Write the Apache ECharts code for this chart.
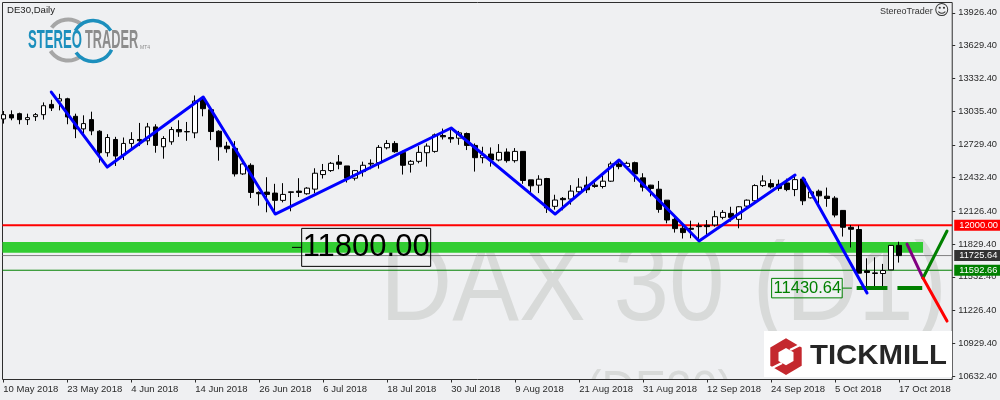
<!DOCTYPE html>
<html><head><meta charset="utf-8">
<style>html,body{margin:0;padding:0;background:#eff0f2}#c{width:1000px;height:400px}</style>
<script src="https://cdn.jsdelivr.net/npm/echarts@6/dist/echarts.min.js"></script>
</head><body><div id="c"></div>
<script>
const opens=[12964,13003,13012,12958,12985,13003,13096,13126,13147,12988,
12874,12958,12853,12658,12778,12637,12742,12778,12766,12892,
12712,12757,12868,12850,12838,13144,13048,12853,12718,12697,
12466,12544,12298,12301,12292,12226,12298,12310,12286,12328,
12460,12496,12574,12538,12427,12487,12556,12568,12703,12742,
12661,12553,12580,12658,12670,12814,12796,12790,12832,12724,
12613,12646,12592,12664,12586,12670,12412,12364,12424,12172,
12244,12238,12304,12364,12364,12352,12400,12556,12532,12568,
12430,12364,12327,12228,12054,11973,11973,11988,12000,12003,
12072,12108,12054,12174,12222,12360,12378,12372,12384,12324,
12420,12249,12309,12264,12246,12135,11982,11962,11587,11563,11563,11596,11818];
const closes=[13003,12973,12958,12976,13003,13084,13063,13147,12982,12874,
12922,12856,12658,12796,12628,12742,12778,12766,12892,12724,
12787,12868,12847,12847,13126,13057,12850,12712,12694,12466,
12556,12298,12286,12280,12226,12280,12304,12298,12337,12472,
12496,12562,12553,12427,12496,12544,12562,12706,12742,12667,
12544,12580,12661,12718,12820,12802,12784,12838,12724,12613,
12637,12592,12661,12586,12670,12406,12358,12418,12157,12229,
12232,12310,12346,12322,12352,12400,12556,12532,12562,12466,
12346,12334,12144,12048,11970,11934,11964,11994,11988,12078,
12117,12072,12168,12228,12360,12402,12348,12333,12324,12414,
12222,12303,12267,12243,12093,11982,11964,11566,11572,11569,11590,11818,11725.64];
const lows=[12922,12952,12916,12910,12946,12958,13036,13042,12916,12790,
12817,12817,12568,12622,12538,12592,12697,12718,12727,12658,
12604,12730,12802,12766,12790,12988,12772,12586,12658,12442,
12457,12247,12178,12118,12112,12208,12127,12256,12277,12292,
12424,12484,12508,12388,12406,12442,12508,12514,12688,12658,
12460,12478,12562,12532,12658,12778,12748,12730,12682,12487,
12562,12532,12580,12568,12568,12376,12298,12292,12112,12142,
12136,12187,12274,12292,12340,12334,12394,12508,12526,12394,
12307,12262,12114,12018,11934,11880,11883,11859,11913,11988,
12054,12033,11973,12162,12213,12348,12333,12312,12309,12264,
12183,12243,12183,12168,12072,11898,11799,11566,11401,11425,11440,11596,11662];
const highs=[13036,13042,13021,13012,13018,13114,13138,13192,13156,13012,
12997,13030,12862,12826,12802,12796,12844,12928,12928,12916,
12808,12892,12952,12937,13177,13162,13066,12862,12757,12763,
12592,12562,12307,12436,12376,12382,12307,12427,12346,12517,
12556,12574,12637,12538,12502,12577,12598,12727,12772,12763,
12676,12592,12718,12742,12832,12877,12868,12856,12841,12742,
12712,12706,12736,12697,12700,12670,12412,12454,12430,12277,
12256,12364,12427,12442,12418,12448,12577,12598,12577,12577,
12472,12367,12402,12228,12072,12012,12042,12024,12048,12132,
12138,12168,12174,12234,12372,12453,12417,12414,12423,12462,
12432,12312,12324,12342,12264,12138,12003,11998,11701,11710,11650,11821,11851];

const dateTicks=[[0,'10 May 2018'],[8,'23 May 2018'],[16,'4 Jun 2018'],[24,'14 Jun 2018'],[32,'26 Jun 2018'],[40,'6 Jul 2018'],[48,'18 Jul 2018'],[56,'30 Jul 2018'],[64,'9 Aug 2018'],[72,'21 Aug 2018'],[80,'31 Aug 2018'],[88,'12 Sep 2018'],[96,'24 Sep 2018'],[104,'5 Oct 2018'],[112,'17 Oct 2018']];
const priceTicks=[13926.4,13629.4,13332.4,13035.4,12729.4,12432.4,12126.4,11829.4,11532.4,11226.4,10929.4,10632.4];

const zigzagA=[[6,13208],[13,12528],[25,13163],[34,12102],[56,12882],[69,12102],[77,12592],[87,11858],[99,12456]];
const zigzagB=[[100,12429],[108,11386]];
const purpleLeg=[[113,11830],[115,11522]];
const greenLeg=[[115,11522],[118,11948]];
const redLeg=[[115,11522],[118,11132]];
const supportA=[[106.7,11430.64],[110.55,11430.64]];
const supportB=[[111.8,11430.64],[114.9,11430.64]];
const zoneTop=11849, zoneBottom=11752, zoneEnd=115;
const pivotHigh=11800.00, pivotLow=11430.64;
const levelRed=12000.00, levelBid=11725.64, levelGreen=11592.66;

const FONT='"Liberation Sans",Arial,sans-serif';
const xMin=-0.1, xMax=118.65, yMin=10602.2, yMax=14019.7;
const chart=echarts.init(document.getElementById('c'),null,{renderer:'canvas'});

function seg(name,data,color,width,z,cap){return {name,type:'line',data,symbol:'none',z,silent:true,animation:false,
  lineStyle:{color,width,cap:cap||'round',join:'round'}};}
function level(name,v,color,width,bg){return {name,type:'line',z:2,symbol:'none',silent:true,animation:false,
  data:[[xMin,v],[xMax,v]],lineStyle:{color,width},
  endLabel:{show:true,formatter:()=>v.toFixed(2),color:'#fff',backgroundColor:bg,fontFamily:FONT,fontSize:9.3,
    padding:[1,5,0,5],distance:2,lineHeight:10}};}
function boxed(name,pts,v,pos,color,size,pad,idx){
  const d=pts.map((p,i)=>i===idx?{value:p,label:{show:true,position:pos,distance:0,formatter:()=>v.toFixed(2),color,fontFamily:FONT,fontSize:size,
    borderColor:color,borderWidth:1,padding:pad,lineHeight:size+2}}:{value:p});
  return {name,type:'line',data:d,symbol:'circle',symbolSize:0.1,showSymbol:true,showAllSymbol:true,z:6,silent:true,animation:false,
    itemStyle:{color},lineStyle:{color,width:1}};
}

const option={
  animation:false,backgroundColor:'#eff0f2',
  grid:{left:2.5,top:2.5,width:950,height:377,show:true,borderColor:'#2e2e2e',borderWidth:1,backgroundColor:'transparent',containLabel:false},
  xAxis:{type:'value',min:xMin,max:xMax,splitLine:{show:false},
    axisLine:{show:false,onZero:false},
    axisTick:{show:true,length:3,lineStyle:{color:'#2e2e2e'},customValues:dateTicks.map(d=>d[0])},
    axisLabel:{show:true,customValues:dateTicks.map(d=>d[0]),align:'left',margin:5,color:'#2a2a2a',fontFamily:FONT,fontSize:9.5,hideOverlap:false,showMinLabel:true,showMaxLabel:true,
      formatter:v=>{const d=dateTicks.find(t=>t[0]===v);return d?d[1]:'';}}},
  yAxis:{type:'value',position:'right',min:yMin,max:yMax,scale:true,splitLine:{show:false},
    axisLine:{show:false,onZero:false},
    axisTick:{show:true,length:3,lineStyle:{color:'#2e2e2e'},customValues:priceTicks},
    axisLabel:{show:true,customValues:priceTicks,margin:6,color:'#2a2a2a',fontFamily:FONT,fontSize:9.3,showMinLabel:true,showMaxLabel:true,formatter:v=>v.toFixed(2)}},
  series:[
    {name:'zone',type:'line',data:[],z:1,silent:true,animation:false,
      markArea:{silent:true,itemStyle:{color:'#32cd32',opacity:1},data:[[{coord:[xMin,zoneTop]},{coord:[zoneEnd,zoneBottom]}]]}},
    level('bid',levelBid,'#808080',1,'#333333'),
    level('green',levelGreen,'#008000',1,'#008000'),
    {name:'DE30',type:'candlestick',z:3,silent:true,animation:false,barWidth:5,
      data:opens.map((o,i)=>[i,o,closes[i],lows[i],highs[i]]),
      itemStyle:{color:'#ffffff',color0:'#000000',borderColor:'#000000',borderColor0:'#000000',borderWidth:1}},
    level('red',levelRed,'#ff0000',2,'#ff0000'),
    seg('supportA',supportA,'#008000',4,4,'butt'),
    seg('supportB',supportB,'#008000',4,4,'butt'),
    seg('zigzagA',zigzagA,'#0000ff',3,5),
    seg('zigzagB',zigzagB,'#0000ff',3,5),
    seg('purple',purpleLeg,'#800080',3,5),
    seg('greenLeg',greenLeg,'#008000',3,5),
    seg('redLeg',redLeg,'#ff0000',3,5),
    boxed('p1',[[36.1,pivotHigh],[37.3,pivotHigh]],pivotHigh,'right','#000000',31,[3,1,2,1],1),
    boxed('p2',[[104.9,pivotLow],[106.1,pivotLow]],pivotLow,'left','#008000',16.5,[1,1,0,2],0)
  ],
  graphic:{elements:[
    {type:'text',z:-3,silent:true,x:380,y:233,scaleX:0.893,style:{text:'DAX 30 (D1)',font:'112px "Liberation Sans"',fill:'#d8dad9'}},
    {type:'text',z:-3,silent:true,x:586,y:367,scaleX:0.893,style:{text:'(DE30)',font:'52px "Liberation Sans"',fill:'#d8dad9'}},
    {type:'rect',z:-2,silent:true,shape:{x:0,y:380,width:1000,height:20},style:{fill:'#eff0f2'}},
    {type:'text',z:10,silent:true,x:7,y:5,style:{text:'DE30,Daily',font:'9.6px "Liberation Sans"',fill:'#222'}},
    {type:'text',z:10,silent:true,x:880,y:7,style:{text:'StereoTrader',font:'9px "Liberation Sans"',fill:'#333'}},
    {type:'text',z:10,silent:true,x:934,y:4,style:{text:'\u263A',font:'15px "DejaVu Sans"',fill:'#333'}},
    {type:'arc',z:9,silent:true,shape:{cx:68,cy:40,r:20.5,startAngle:217*Math.PI/180,endAngle:315*Math.PI/180},style:{stroke:'#a6a6a6',lineWidth:4,fill:'none'}},
    {type:'arc',z:9,silent:true,shape:{cx:68,cy:40,r:20.5,startAngle:51*Math.PI/180,endAngle:148*Math.PI/180},style:{stroke:'#a6a6a6',lineWidth:4,fill:'none'}},
    {type:'arc',z:9,silent:true,shape:{cx:93,cy:41,r:20.5,startAngle:210*Math.PI/180,endAngle:330*Math.PI/180},style:{stroke:'#1c8fbd',lineWidth:3.5,fill:'none'}},
    {type:'arc',z:9,silent:true,shape:{cx:93,cy:41,r:20.5,startAngle:25*Math.PI/180,endAngle:146*Math.PI/180},style:{stroke:'#1c8fbd',lineWidth:3.5,fill:'none'}},
    {type:'text',z:10,silent:true,x:28,y:29,scaleX:0.525,style:{text:'STEREO',font:'bold 25px "Liberation Sans"',fill:'#1c8fbd'}},
    {type:'text',z:10,silent:true,x:85,y:29,scaleX:0.51,style:{text:'TRADER',font:'bold 25px "Liberation Sans"',fill:'#8c8c8c'}},
    {type:'text',z:10,silent:true,x:140,y:45,style:{text:'MT4',font:'5px "Liberation Sans"',fill:'#8c8c8c'}},
    {type:'rect',z:20,silent:true,shape:{x:764,y:331,width:188,height:46},style:{fill:'#ffffff'}},
    {type:'polygon',z:21,silent:true,shape:{points:[[786,338.3],[801.7,347.5],[801.7,365.8],[786,375],[770.3,365.8],[770.3,347.5]]},style:{fill:'#c4282e'}},
    {type:'polygon',z:22,silent:true,shape:{points:[[786,348],[793.5,352.3],[793.5,361],[786,365.3],[778.5,361],[778.5,352.3]]},style:{fill:'#ffffff'}},
    {type:'polyline',z:22,silent:true,shape:{points:[[790,350],[802,344]]},style:{stroke:'#ffffff',lineWidth:2.5,fill:'none'}},
    {type:'polyline',z:22,silent:true,shape:{points:[[782,363],[770,369]]},style:{stroke:'#ffffff',lineWidth:2.5,fill:'none'}},
    {type:'text',z:21,silent:true,x:810,y:342.5,scaleX:1.067,style:{text:'TICKMILL',font:'bold 27.5px "Liberation Sans"',fill:'#262626'}}
  ]}
};
chart.setOption(option);
</script></body></html>
